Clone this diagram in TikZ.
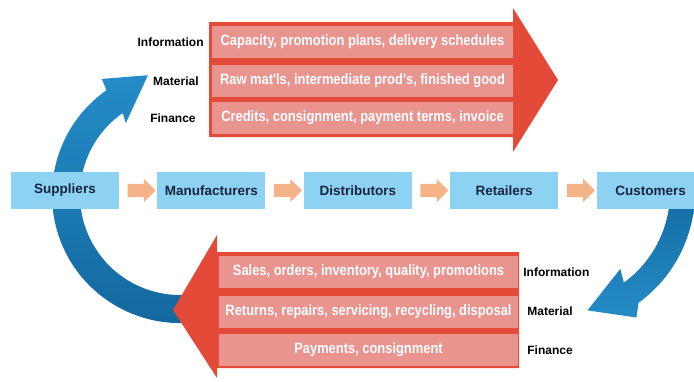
\documentclass[tikz,border=0pt]{standalone}
\usepackage{fontspec}
\setmainfont{Liberation Sans}
\newfontfamily\narrowfont[FakeStretch=0.86]{Liberation Sans}
\usepackage{tikz}
\usetikzlibrary{shapes.arrows,positioning,calc}
\definecolor{boxblue}{RGB}{142,210,243}
\definecolor{boxtext}{RGB}{22,36,64}
\definecolor{flowpeach}{RGB}{245,180,135}
\definecolor{arrowred}{RGB}{228,74,56}
\definecolor{rowpink}{RGB}{233,148,143}
\definecolor{blueup}{RGB}{36,140,200}
\definecolor{bluedown}{RGB}{18,102,156}

\begin{document}
\begin{tikzpicture}[x=1pt,y=-1pt,
		stage/.style={fill=boxblue,text=boxtext,minimum width=108pt,minimum height=37pt,inner sep=0pt,font=\fontsize{13.5}{15}\selectfont\bfseries},
		flowarrow/.style={single arrow,fill=flowpeach,minimum height=28pt,inner xsep=0pt,inner ysep=6.5pt,single arrow head extend=5pt},
		rowbar/.style={fill=rowpink,text=white,minimum height=32pt,inner sep=0pt,font=\narrowfont\fontsize{15}{17}\selectfont\bfseries},
		flowlabel/.style={font=\fontsize{12}{14}\selectfont\bfseries,inner sep=0pt}]
		\useasboundingbox (0,0) rectangle (694,381);
		%Ritorni
		\coordinate (lc) at (180,195);
		\coordinate (rc) at (558,192);
		\shade [top color=blueup,bottom color=bluedown] ($(lc)+(285:128pt)$) arc [start angle=285,end angle=125,radius=128pt] -- ($(lc)+(124:140pt)$) -- ($(lc)+(105:124pt)$) -- ($(lc)+(127:90pt)$) -- ($(lc)+(125:100pt)$) arc [start angle=125,end angle=285,radius=100pt] -- cycle;
		\shade [top color=bluedown,bottom color=blueup] ($(rc)+(8:137pt)$) arc [start angle=8,end angle=-54,radius=137pt] -- ($(rc)+(-58:148pt)$) -- ($(rc)+(-76:122pt)$) -- ($(rc)+(-51:99pt)$) -- ($(rc)+(-54:112pt)$) arc [start angle=-54,end angle=8,radius=112pt] -- cycle;
		%Freccia alta
		\fill [arrowred] (209,22) -- (513,22) -- (513,8) -- (558,80) -- (513,152) -- (513,137) -- (209,137) -- cycle;
		\node [rowbar,minimum width=301pt] (cap) at (362.5,42) {Capacity, promotion plans, delivery schedules};
		\node [rowbar,minimum width=301pt] (raw) at (362.5,81) {Raw mat'ls, intermediate prod's, finished good};
		\node [rowbar,minimum width=301pt] (cred) at (362.5,118) {Credits, consignment, payment terms, invoice};
		\node [flowlabel,left=8pt of cap] {Information};
		\node [flowlabel,left=13pt of raw] {Material};
		\node [flowlabel,left=16pt of cred] {Finance};
		%Freccia bassa
		\fill [arrowred] (519,252) -- (217,252) -- (217,235) -- (173,310) -- (217,378) -- (217,368) -- (519,368) -- cycle;
		\node [rowbar,minimum width=299pt] (sales) at (368.5,272) {Sales, orders, inventory, quality, promotions};
		\node [rowbar,minimum width=299pt] (retn) at (368.5,311.5) {Returns, repairs, servicing, recycling, disposal};
		\node [rowbar,minimum width=299pt] (pay) at (368.5,350) {Payments, consignment};
		\node [flowlabel,right=5pt of sales] {Information};
		\node [flowlabel,right=9pt of retn] {Material};
		\node [flowlabel,right=9pt of pay] {Finance};
		%Catena
		\node [stage] (sup) at (65,190.5) {Suppliers};
		\node [stage,right=38pt of sup] (man) {Manufacturers};
		\node [stage,right=38pt of man] (dis) {Distributors};
		\node [stage,right=38pt of dis] (rtl) {Retailers};
		\node [stage,right=38pt of rtl] (cus) {Customers};
		\node [flowarrow] at ($(sup.east)!0.5!(man.west)$) {};
		\node [flowarrow] at ($(man.east)!0.5!(dis.west)$) {};
		\node [flowarrow] at ($(dis.east)!0.5!(rtl.west)$) {};
		\node [flowarrow] at ($(rtl.east)!0.5!(cus.west)$) {};
	\end{tikzpicture}
\end{document}
